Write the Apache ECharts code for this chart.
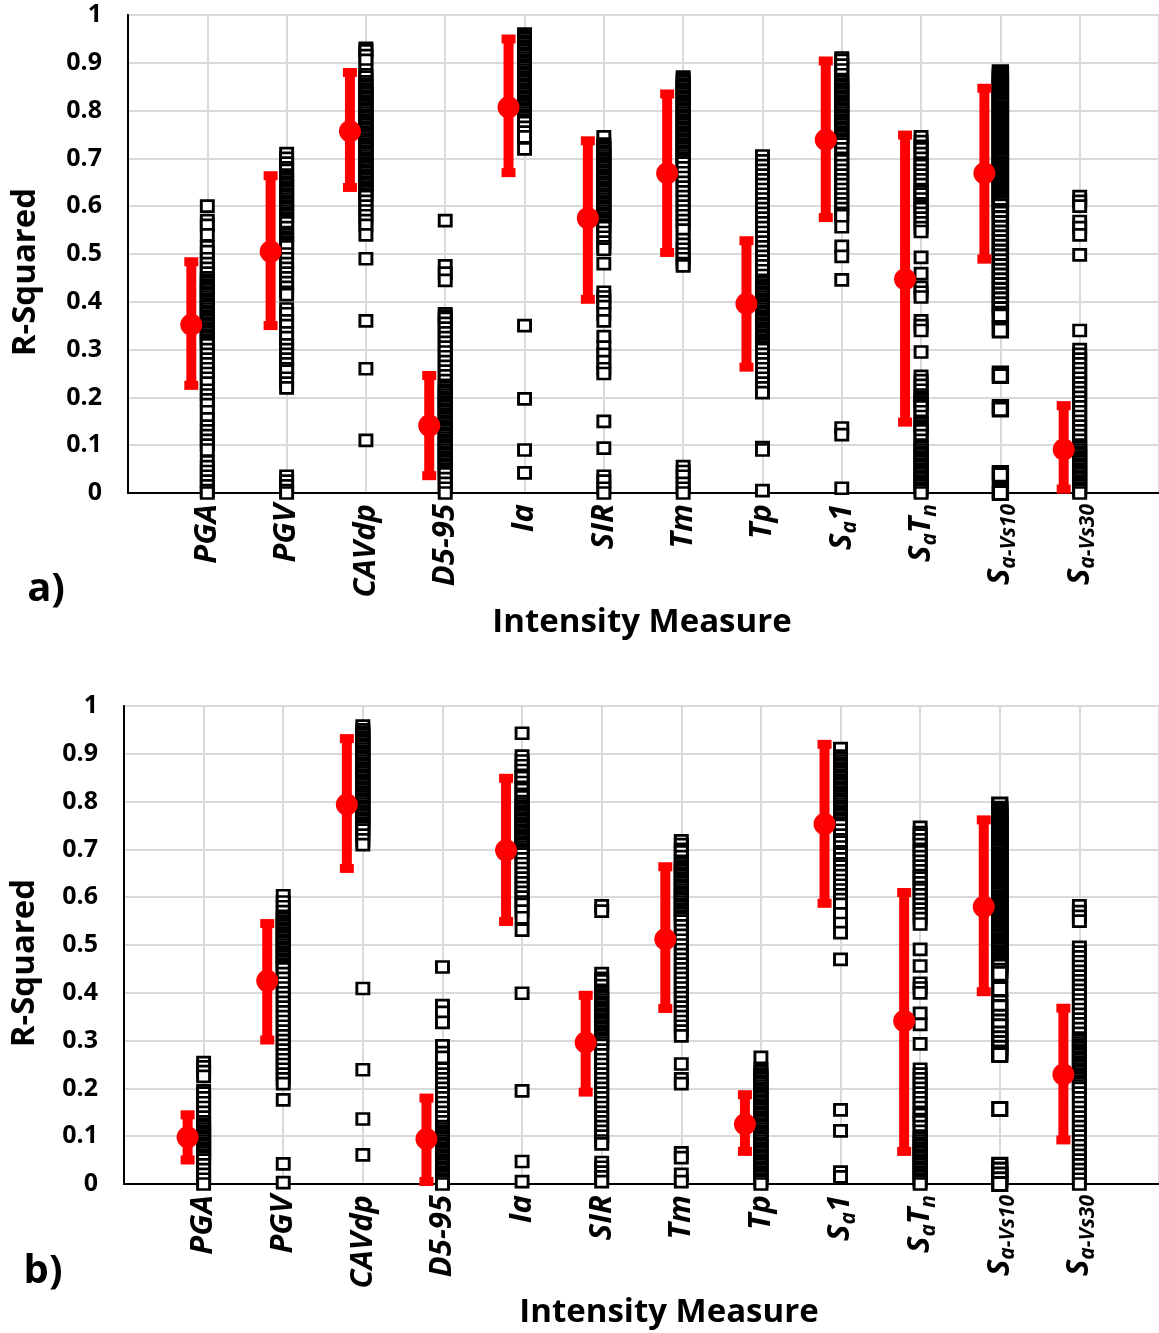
<!DOCTYPE html>
<html>
<head>
<meta charset="utf-8">
<script src="https://cdn.jsdelivr.net/npm/echarts@6.0.0/dist/echarts.min.js"></script>
<style>
  html, body { margin: 0; padding: 0; background: #fff; }
  #chart { width: 1159px; height: 1333px; }
</style>
</head>
<body>
<div id="chart"></div>
<script>
var categories = ['PGA', 'PGV', 'CAVdp', 'D5-95', 'Ia', 'SIR', 'Tm', 'Tp', 'Sa1', 'SaTn', 'Sa-Vs10', 'Sa-Vs30'];
var yTicks = [0, 0.1, 0.2, 0.3, 0.4, 0.5, 0.6, 0.7, 0.8, 0.9, 1];

// panel a) mean and +/- bar ends
var meanA  = [0.352, 0.505, 0.757, 0.141, 0.807, 0.575, 0.669, 0.396, 0.739, 0.447, 0.669, 0.091];
var upperA = [0.489, 0.669, 0.885, 0.251, 0.955, 0.742, 0.840, 0.533, 0.909, 0.754, 0.852, 0.188];
var lowerA = [0.220, 0.345, 0.634, 0.031, 0.665, 0.400, 0.498, 0.258, 0.571, 0.143, 0.484, 0.003];

// panel b)
var meanB  = [0.098, 0.425, 0.794, 0.094, 0.698, 0.296, 0.512, 0.125, 0.753, 0.341, 0.580, 0.229];
var upperB = [0.150, 0.550, 0.937, 0.185, 0.854, 0.400, 0.669, 0.192, 0.925, 0.615, 0.767, 0.373];
var lowerB = [0.045, 0.296, 0.655, 0.000, 0.544, 0.187, 0.362, 0.063, 0.582, 0.063, 0.397, 0.087];

// individual R-squared values (squares), one list per intensity measure
var pointsA = [
  [0.60,0.57,0.56,0.54,0.515,0.505,0.49,0.48,0.47,0.46,0.45,0.445,0.44,0.435,0.43,0.425,0.42,0.415,0.41,0.405,0.40,0.395,0.39,0.385,0.38,0.375,0.37,0.365,0.36,0.355,0.35,0.345,0.34,0.335,0.33,0.325,0.32,0.315,0.31,0.30,0.29,0.28,0.27,0.26,0.25,0.24,0.23,0.215,0.205,0.195,0.185,0.17,0.155,0.14,0.13,0.12,0.11,0.10,0.09,0.065,0.055,0.045,0.035,0.025,0.015,0.005,0.0],
  [0.71,0.70,0.69,0.68,0.675,0.665,0.66,0.655,0.65,0.645,0.64,0.635,0.63,0.625,0.62,0.615,0.61,0.605,0.60,0.595,0.59,0.585,0.58,0.575,0.57,0.565,0.555,0.545,0.54,0.535,0.53,0.525,0.52,0.515,0.50,0.49,0.48,0.47,0.46,0.45,0.44,0.43,0.42,0.415,0.385,0.375,0.36,0.35,0.335,0.325,0.31,0.30,0.29,0.28,0.27,0.26,0.255,0.24,0.23,0.22,0.035,0.025,0.015,0.005,0.0],
  [0.93,0.925,0.915,0.905,0.885,0.875,0.87,0.86,0.855,0.85,0.845,0.84,0.835,0.83,0.825,0.82,0.815,0.81,0.805,0.80,0.795,0.79,0.785,0.78,0.775,0.77,0.765,0.76,0.755,0.75,0.745,0.74,0.735,0.73,0.725,0.72,0.715,0.71,0.705,0.70,0.695,0.69,0.685,0.68,0.675,0.67,0.665,0.66,0.655,0.65,0.645,0.64,0.635,0.63,0.625,0.62,0.61,0.60,0.59,0.58,0.57,0.56,0.54,0.49,0.36,0.26,0.11],
  [0.57,0.475,0.46,0.445,0.375,0.37,0.365,0.355,0.345,0.335,0.325,0.315,0.305,0.295,0.285,0.275,0.265,0.255,0.245,0.235,0.225,0.22,0.215,0.21,0.205,0.20,0.195,0.19,0.185,0.18,0.175,0.17,0.165,0.16,0.155,0.15,0.145,0.14,0.135,0.13,0.125,0.12,0.115,0.11,0.105,0.10,0.095,0.09,0.085,0.08,0.075,0.07,0.065,0.06,0.055,0.05,0.045,0.04,0.03,0.02,0.01,0.0],
  [0.96,0.955,0.95,0.945,0.94,0.935,0.93,0.925,0.92,0.915,0.91,0.905,0.90,0.895,0.89,0.885,0.88,0.875,0.87,0.865,0.86,0.855,0.85,0.845,0.84,0.835,0.83,0.825,0.82,0.815,0.81,0.805,0.80,0.795,0.79,0.785,0.78,0.775,0.765,0.755,0.745,0.72,0.35,0.197,0.09,0.042],
  [0.745,0.73,0.725,0.72,0.715,0.71,0.705,0.70,0.695,0.69,0.685,0.68,0.675,0.67,0.665,0.66,0.655,0.65,0.645,0.64,0.635,0.63,0.625,0.62,0.615,0.61,0.605,0.60,0.595,0.59,0.585,0.58,0.575,0.57,0.565,0.56,0.555,0.545,0.535,0.525,0.515,0.51,0.48,0.42,0.41,0.40,0.39,0.375,0.36,0.327,0.305,0.29,0.275,0.26,0.25,0.15,0.094,0.035,0.025,0.01,0.0],
  [0.87,0.865,0.86,0.855,0.85,0.845,0.84,0.835,0.83,0.825,0.82,0.815,0.81,0.805,0.80,0.795,0.79,0.785,0.78,0.775,0.77,0.765,0.76,0.755,0.75,0.745,0.74,0.735,0.73,0.725,0.72,0.715,0.71,0.705,0.70,0.695,0.69,0.68,0.67,0.66,0.65,0.64,0.63,0.62,0.61,0.60,0.59,0.58,0.57,0.56,0.55,0.53,0.52,0.51,0.50,0.49,0.48,0.475,0.055,0.045,0.035,0.02,0.01,0.0],
  [0.705,0.695,0.685,0.675,0.665,0.655,0.645,0.635,0.625,0.615,0.605,0.595,0.585,0.575,0.565,0.555,0.545,0.535,0.525,0.515,0.505,0.495,0.485,0.475,0.465,0.455,0.445,0.44,0.435,0.43,0.425,0.42,0.415,0.41,0.405,0.40,0.395,0.39,0.385,0.38,0.375,0.37,0.365,0.36,0.355,0.35,0.345,0.34,0.335,0.33,0.325,0.32,0.315,0.31,0.305,0.30,0.29,0.28,0.27,0.26,0.25,0.24,0.23,0.22,0.21,0.095,0.09,0.005],
  [0.91,0.905,0.895,0.885,0.875,0.865,0.86,0.855,0.85,0.845,0.84,0.835,0.83,0.825,0.82,0.815,0.81,0.805,0.80,0.795,0.79,0.785,0.78,0.775,0.77,0.765,0.76,0.755,0.75,0.745,0.74,0.735,0.73,0.72,0.71,0.70,0.695,0.685,0.675,0.665,0.655,0.645,0.635,0.625,0.615,0.605,0.595,0.585,0.58,0.557,0.516,0.495,0.446,0.136,0.122,0.01],
  [0.745,0.735,0.725,0.72,0.71,0.70,0.69,0.685,0.675,0.665,0.655,0.645,0.635,0.63,0.625,0.615,0.605,0.60,0.595,0.585,0.575,0.565,0.555,0.547,0.493,0.459,0.43,0.42,0.41,0.36,0.35,0.34,0.295,0.244,0.235,0.225,0.215,0.205,0.20,0.195,0.19,0.185,0.18,0.17,0.16,0.15,0.145,0.14,0.135,0.13,0.12,0.11,0.10,0.095,0.09,0.085,0.08,0.075,0.07,0.065,0.06,0.055,0.05,0.045,0.04,0.035,0.03,0.025,0.02,0.015,0.01,0.005,0.0],
  [0.88,0.875,0.87,0.865,0.86,0.855,0.85,0.845,0.84,0.835,0.83,0.825,0.82,0.815,0.81,0.805,0.80,0.795,0.79,0.785,0.78,0.775,0.77,0.765,0.76,0.755,0.75,0.745,0.74,0.735,0.73,0.725,0.72,0.715,0.71,0.705,0.70,0.695,0.69,0.685,0.68,0.675,0.67,0.665,0.66,0.655,0.65,0.645,0.64,0.635,0.63,0.625,0.62,0.615,0.61,0.605,0.60,0.59,0.585,0.575,0.565,0.555,0.545,0.535,0.525,0.515,0.505,0.495,0.485,0.475,0.465,0.455,0.445,0.435,0.425,0.415,0.405,0.395,0.385,0.375,0.37,0.345,0.34,0.25,0.245,0.18,0.175,0.042,0.038,0.005,0.0],
  [0.62,0.61,0.60,0.568,0.555,0.54,0.498,0.34,0.30,0.29,0.28,0.27,0.26,0.25,0.24,0.23,0.22,0.21,0.20,0.19,0.18,0.17,0.16,0.15,0.14,0.13,0.12,0.11,0.10,0.095,0.09,0.085,0.08,0.075,0.07,0.065,0.06,0.055,0.05,0.045,0.04,0.035,0.03,0.025,0.02,0.015,0.01,0.005,0.0]
];

var pointsB = [
  [0.254,0.245,0.235,0.225,0.195,0.19,0.18,0.17,0.16,0.15,0.14,0.13,0.125,0.12,0.115,0.11,0.105,0.10,0.095,0.09,0.085,0.08,0.075,0.07,0.065,0.06,0.055,0.05,0.04,0.03,0.02,0.01,0.0],
  [0.603,0.59,0.58,0.57,0.56,0.555,0.55,0.545,0.54,0.535,0.53,0.525,0.52,0.515,0.51,0.505,0.50,0.495,0.49,0.485,0.48,0.475,0.47,0.465,0.46,0.455,0.45,0.44,0.43,0.42,0.41,0.40,0.39,0.38,0.37,0.36,0.35,0.34,0.33,0.32,0.31,0.30,0.29,0.28,0.27,0.26,0.25,0.24,0.23,0.22,0.21,0.176,0.042,0.003],
  [0.958,0.95,0.945,0.94,0.935,0.93,0.925,0.92,0.915,0.91,0.905,0.90,0.895,0.89,0.885,0.88,0.875,0.87,0.865,0.86,0.855,0.85,0.845,0.84,0.835,0.83,0.825,0.82,0.815,0.81,0.805,0.80,0.795,0.79,0.785,0.78,0.775,0.77,0.765,0.76,0.755,0.75,0.745,0.74,0.73,0.72,0.71,0.409,0.239,0.136,0.061],
  [0.454,0.373,0.359,0.338,0.289,0.275,0.265,0.24,0.23,0.22,0.21,0.20,0.19,0.18,0.17,0.16,0.15,0.14,0.13,0.12,0.115,0.11,0.105,0.10,0.095,0.09,0.085,0.08,0.075,0.07,0.065,0.06,0.055,0.05,0.045,0.04,0.035,0.03,0.025,0.02,0.015,0.01,0.005,0.0],
  [0.943,0.895,0.885,0.875,0.865,0.855,0.85,0.84,0.83,0.825,0.815,0.81,0.80,0.795,0.79,0.785,0.78,0.775,0.77,0.765,0.76,0.755,0.75,0.745,0.74,0.735,0.73,0.725,0.72,0.715,0.71,0.705,0.70,0.695,0.69,0.68,0.67,0.66,0.65,0.64,0.63,0.62,0.61,0.60,0.59,0.585,0.571,0.557,0.531,0.399,0.195,0.047,0.005],
  [0.582,0.571,0.44,0.43,0.425,0.415,0.405,0.40,0.395,0.39,0.385,0.38,0.375,0.37,0.365,0.36,0.355,0.35,0.345,0.34,0.335,0.33,0.325,0.32,0.315,0.31,0.305,0.30,0.295,0.29,0.28,0.27,0.26,0.25,0.24,0.23,0.22,0.21,0.20,0.19,0.18,0.17,0.16,0.15,0.14,0.13,0.12,0.11,0.10,0.09,0.084,0.045,0.035,0.025,0.015,0.005],
  [0.718,0.71,0.70,0.695,0.685,0.675,0.67,0.665,0.66,0.655,0.65,0.645,0.64,0.635,0.63,0.625,0.62,0.615,0.61,0.605,0.60,0.595,0.59,0.585,0.58,0.575,0.57,0.565,0.56,0.555,0.55,0.54,0.53,0.52,0.51,0.50,0.49,0.48,0.47,0.46,0.45,0.44,0.43,0.42,0.41,0.40,0.39,0.38,0.37,0.36,0.35,0.34,0.33,0.32,0.31,0.251,0.22,0.21,0.065,0.055,0.02,0.005],
  [0.265,0.24,0.235,0.23,0.225,0.22,0.215,0.21,0.205,0.20,0.195,0.19,0.185,0.18,0.175,0.17,0.165,0.16,0.155,0.15,0.145,0.14,0.135,0.13,0.125,0.12,0.115,0.11,0.105,0.10,0.095,0.09,0.085,0.08,0.075,0.07,0.065,0.06,0.055,0.05,0.045,0.04,0.035,0.03,0.025,0.02,0.015,0.01,0.005,0.0],
  [0.911,0.895,0.89,0.885,0.88,0.875,0.87,0.865,0.86,0.855,0.85,0.845,0.84,0.835,0.83,0.825,0.82,0.815,0.81,0.805,0.80,0.795,0.79,0.785,0.78,0.775,0.77,0.765,0.76,0.755,0.75,0.74,0.73,0.72,0.715,0.705,0.695,0.69,0.68,0.67,0.665,0.655,0.645,0.635,0.625,0.615,0.605,0.595,0.585,0.565,0.545,0.526,0.47,0.155,0.111,0.025,0.015],
  [0.746,0.735,0.73,0.72,0.71,0.70,0.695,0.685,0.675,0.665,0.655,0.645,0.64,0.63,0.62,0.615,0.605,0.595,0.585,0.575,0.565,0.555,0.544,0.491,0.456,0.42,0.41,0.40,0.357,0.334,0.293,0.24,0.23,0.22,0.21,0.20,0.19,0.18,0.17,0.16,0.15,0.145,0.135,0.13,0.12,0.11,0.10,0.095,0.09,0.085,0.08,0.075,0.07,0.065,0.06,0.055,0.05,0.045,0.04,0.035,0.03,0.025,0.02,0.015,0.01,0.005,0.0],
  [0.794,0.785,0.78,0.775,0.77,0.765,0.76,0.755,0.75,0.745,0.74,0.735,0.73,0.725,0.72,0.715,0.71,0.705,0.70,0.695,0.69,0.685,0.68,0.675,0.67,0.665,0.66,0.655,0.65,0.645,0.64,0.635,0.63,0.625,0.62,0.615,0.61,0.605,0.60,0.595,0.59,0.585,0.58,0.575,0.57,0.565,0.56,0.555,0.55,0.545,0.54,0.535,0.53,0.525,0.52,0.515,0.51,0.505,0.50,0.495,0.49,0.485,0.48,0.475,0.47,0.465,0.46,0.455,0.446,0.44,0.408,0.38,0.37,0.35,0.34,0.33,0.315,0.305,0.295,0.285,0.275,0.27,0.157,0.04,0.03,0.02,0.01,0.0],
  [0.582,0.57,0.56,0.55,0.495,0.485,0.475,0.465,0.455,0.445,0.435,0.425,0.415,0.405,0.395,0.385,0.375,0.365,0.355,0.345,0.335,0.325,0.315,0.305,0.30,0.295,0.29,0.285,0.28,0.275,0.27,0.265,0.26,0.255,0.25,0.245,0.24,0.235,0.23,0.225,0.22,0.215,0.21,0.205,0.20,0.19,0.18,0.17,0.16,0.15,0.14,0.13,0.12,0.11,0.10,0.09,0.08,0.07,0.06,0.05,0.04,0.03,0.02,0.01,0.0]
];

// rich-text markup for the tick labels (subscripts on the Sa measures)
var labelMarkup = {
  'Sa1': '{m|S}{s|a}{m|1}',
  'SaTn': '{m|S}{s|a}{m|T}{s|n}',
  'Sa-Vs10': '{m|S}{s|a-Vs10}',
  'Sa-Vs30': '{m|S}{s|a-Vs30}'
};

var FONT = "'Open Sans', 'Noto Sans', sans-serif";

var chart = echarts.init(document.getElementById('chart'), null, { renderer: 'canvas' });

function xLabel(v) {
  var name = categories[v - 1];
  if (!name) return '';
  return labelMarkup[name] || '{m|' + name + '}';
}

function makeXAxis(gi) {
  return {
    type: 'value', gridIndex: gi, min: 0, max: 13, interval: 1,
    axisLine: { show: true, onZero: false, lineStyle: { color: '#000', width: 2 } },
    axisTick: { show: false },
    splitLine: { show: true, lineStyle: { color: '#d9d9d9', width: 2 } },
    axisLabel: {
      rotate: 90, margin: 11, formatter: xLabel,
      rich: {
        m: { fontFamily: FONT, fontSize: 31, fontWeight: 'bold', fontStyle: 'italic', color: '#000', lineHeight: 38 },
        s: { fontFamily: FONT, fontSize: 21, fontWeight: 'bold', fontStyle: 'italic', color: '#000', lineHeight: 18, verticalAlign: 'bottom' }
      }
    }
  };
}

function makeYAxis(gi) {
  return {
    type: 'value', gridIndex: gi, min: 0, max: 1, interval: 0.1,
    axisLine: { show: true, lineStyle: { color: '#000', width: 2 } },
    axisTick: { show: false },
    splitLine: { show: true, lineStyle: { color: '#d9d9d9', width: 2 } },
    axisLabel: {
      margin: 26, color: '#000', fontFamily: FONT, fontSize: 25, fontWeight: 'bold',
      formatter: function (v) {
        var t = yTicks.filter(function (k) { return Math.abs(k - v) < 1e-6; })[0];
        return t === undefined ? '' : String(t);
      }
    }
  };
}

// the Sa-Vs10 markers are drawn a size larger in the original
var BIG = 11;

function squares(points, gi) {
  var data = [];
  points.forEach(function (list, i) {
    list.forEach(function (v) {
      if (i + 1 === BIG) {
        data.push({ value: [i + 1, v], symbolSize: [14, 13], itemStyle: { borderWidth: 3.2 } });
      } else {
        data.push([i + 1, v]);
      }
    });
  });
  return {
    type: 'scatter', xAxisIndex: gi, yAxisIndex: gi, symbol: 'rect', symbolSize: [12, 11],
    itemStyle: { color: '#fff', borderColor: '#000', borderWidth: 2.8, opacity: 1 },
    data: data, z: 3, silent: true, animation: false, clip: false
  };
}

function renderErr(params, api) {
  var x = api.value(0);
  var c = api.coord([x, api.value(1)]);
  var lo = api.coord([x, api.value(2)]);
  var hi = api.coord([x, api.value(3)]);
  var cx = c[0] - 16;
  var red = { fill: '#ff0000' };
  return {
    type: 'group',
    children: [
      { type: 'rect', shape: { x: cx - 5, y: hi[1], width: 10, height: lo[1] - hi[1] }, style: red },
      { type: 'rect', shape: { x: cx - 7, y: hi[1] - 2, width: 14, height: 9 }, style: red },
      { type: 'rect', shape: { x: cx - 7, y: lo[1] - 7, width: 14, height: 9 }, style: red },
      { type: 'circle', shape: { cx: cx, cy: c[1], r: 11 }, style: red }
    ]
  };
}

function errBars(mean, lower, upper, gi) {
  return {
    type: 'custom', xAxisIndex: gi, yAxisIndex: gi, renderItem: renderErr,
    encode: { x: 0, y: [1, 2, 3] },
    data: mean.map(function (m, i) { return [i + 1, m, lower[i], upper[i]]; }),
    z: 5, silent: true, animation: false, clip: false
  };
}

function txt(text, x, y, size, rot) {
  return {
    type: 'text', x: x, y: y, rotation: rot || 0, z: 10,
    style: { text: text, fontFamily: FONT, fontSize: size, fontWeight: 'bold', fill: '#000', align: 'center', verticalAlign: 'middle' }
  };
}

chart.setOption({
  backgroundColor: '#fff',
  animation: false,
  grid: [
    { left: 128, top: 15, width: 1036, height: 478, show: true, borderColor: '#000', borderWidth: 2, backgroundColor: 'transparent' },
    { left: 124, top: 706, width: 1040, height: 478, show: true, borderColor: '#000', borderWidth: 2, backgroundColor: 'transparent' }
  ],
  xAxis: [makeXAxis(0), makeXAxis(1)],
  yAxis: [makeYAxis(0), makeYAxis(1)],
  series: [
    squares(pointsA, 0),
    errBars(meanA, lowerA, upperA, 0),
    squares(pointsB, 1),
    errBars(meanB, lowerB, upperB, 1)
  ],
  graphic: [
    txt('R-Squared', 26, 272, 33, Math.PI / 2),
    txt('R-Squared', 25, 963, 33, Math.PI / 2),
    txt('Intensity Measure', 642, 623, 33),
    txt('Intensity Measure', 669, 1313, 33),
    txt('a)', 46, 590, 40),
    txt('b)', 43, 1272, 40)
  ]
});
</script>
</body>
</html>
